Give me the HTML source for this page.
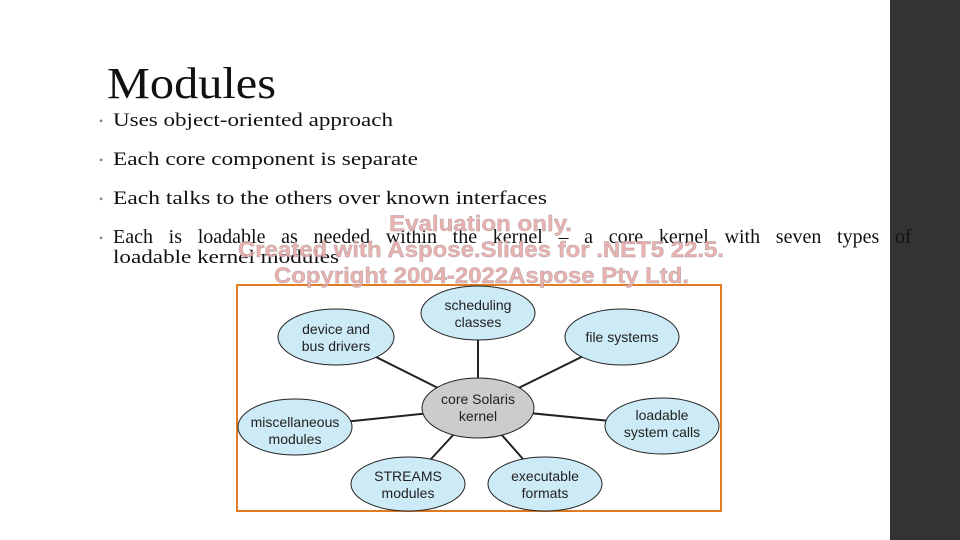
<!DOCTYPE html>
<html><head><meta charset="utf-8"><style>
html,body{margin:0;padding:0;background:#fff;}
svg{display:block}
</style></head><body>
<svg width="960" height="540" viewBox="0 0 960 540" xmlns="http://www.w3.org/2000/svg">
<rect x="0" y="0" width="960" height="540" fill="#fff"/>
<rect x="890" y="0" width="70" height="540" fill="#333333"/>
<g font-family="Liberation Serif, serif" fill="#111">
<text x="107" y="98" font-size="44" textLength="169" lengthAdjust="spacingAndGlyphs">Modules</text>
<g font-size="19">
<text x="99" y="125" font-size="12" fill="#888">•</text>
<text x="113" y="126" textLength="280" lengthAdjust="spacingAndGlyphs">Uses object-oriented approach</text>
<text x="99" y="164" font-size="12" fill="#888">•</text>
<text x="113" y="165" textLength="305" lengthAdjust="spacingAndGlyphs">Each core component is separate</text>
<text x="99" y="203" font-size="12" fill="#888">•</text>
<text x="113" y="204" textLength="434" lengthAdjust="spacingAndGlyphs">Each talks to the others over known interfaces</text>
<text x="99" y="242" font-size="12" fill="#888">•</text>
<text x="113" y="243" font-size="20" word-spacing="10.7">Each is loadable as needed within the kernel – a core kernel with seven types of</text>
<text x="113" y="263" textLength="226" lengthAdjust="spacingAndGlyphs">loadable kernel modules</text>
</g>
</g>
<rect x="237" y="285" width="484" height="226" fill="#fff" stroke="#e07b20" stroke-width="2"/>
<g stroke="#222" stroke-width="2">
<line x1="478" y1="408" x2="478" y2="313"/>
<line x1="478" y1="408" x2="336" y2="337"/>
<line x1="478" y1="408" x2="622" y2="337"/>
<line x1="478" y1="408" x2="295" y2="427"/>
<line x1="478" y1="408" x2="662" y2="426"/>
<line x1="478" y1="408" x2="408" y2="484"/>
<line x1="478" y1="408" x2="545" y2="484"/>
</g>
<g stroke="#222" stroke-width="1" fill="#cdeaf7">
<ellipse cx="478" cy="313" rx="57" ry="27"/>
<ellipse cx="336" cy="337" rx="58" ry="28"/>
<ellipse cx="622" cy="337" rx="57" ry="28"/>
<ellipse cx="295" cy="427" rx="57" ry="28"/>
<ellipse cx="662" cy="426" rx="57" ry="28"/>
<ellipse cx="408" cy="484" rx="57" ry="27"/>
<ellipse cx="545" cy="484" rx="57" ry="27"/>
<ellipse cx="478" cy="408" rx="56" ry="30" fill="#cccccc"/>
</g>
<g font-family="Liberation Sans, sans-serif" font-size="14" fill="#222" text-anchor="middle">
<text x="478" y="310">scheduling</text><text x="478" y="327">classes</text>
<text x="336" y="334">device and</text><text x="336" y="351">bus drivers</text>
<text x="622" y="342">file systems</text>
<text x="478" y="404">core Solaris</text><text x="478" y="421">kernel</text>
<text x="295" y="427">miscellaneous</text><text x="295" y="444">modules</text>
<text x="662" y="420">loadable</text><text x="662" y="437">system calls</text>
<text x="408" y="481">STREAMS</text><text x="408" y="498">modules</text>
<text x="545" y="481">executable</text><text x="545" y="498">formats</text>
</g>
<g font-family="Liberation Sans, sans-serif" font-weight="bold" font-size="22" fill="#e8a8a8" fill-opacity="0.9" stroke="#b0a0a0" stroke-width="0.4">
<text x="389" y="231" textLength="183" lengthAdjust="spacingAndGlyphs">Evaluation only.</text>
<text x="238" y="257" textLength="486" lengthAdjust="spacingAndGlyphs">Created with Aspose.Slides for .NET5 22.5.</text>
<text x="274" y="283" textLength="415" lengthAdjust="spacingAndGlyphs">Copyright 2004-2022Aspose Pty Ltd.</text>
</g>
</svg>
</body></html>
